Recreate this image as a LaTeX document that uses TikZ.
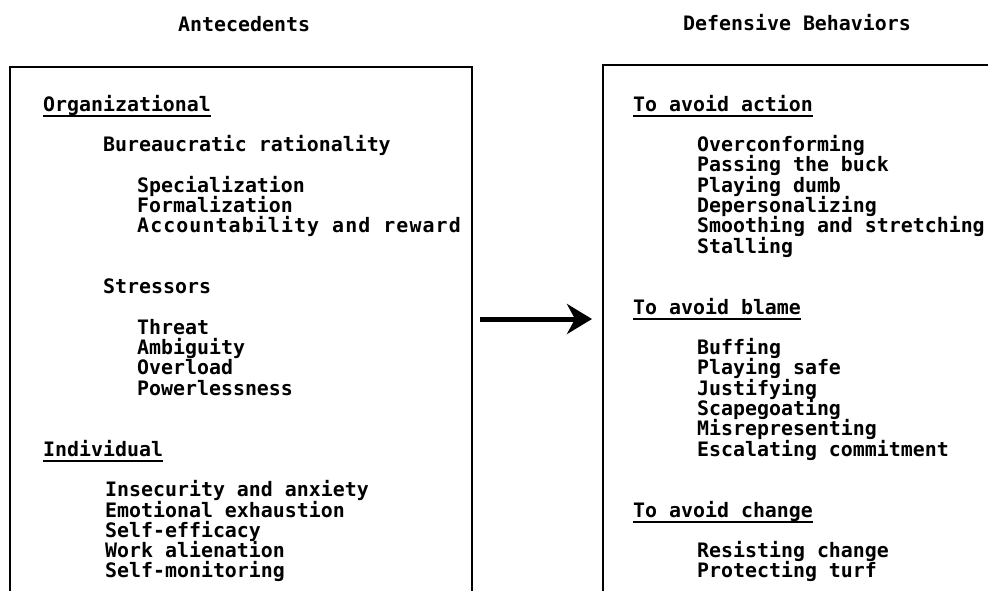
\documentclass[tikz,border=0pt]{standalone}
\usepackage{fontspec}
\setmonofont{DejaVu Sans Mono}
\newfontfamily\widemono{DejaVu Sans Mono}[LetterSpace=5.5]
\usetikzlibrary{arrows.meta}
\begin{document}
\begin{tikzpicture}[x=1pt,y=-1pt,
  txt/.style={font=\ttfamily\bfseries\fontsize{19.9}{20}\selectfont, inner sep=0pt, anchor=base west},
  widetxt/.style={txt, font=\widemono\bfseries\fontsize{19.9}{20}\selectfont},
  frame/.style={line width=2pt},
  uline/.style={line width=2pt},
  link/.style={line width=5pt, -{Stealth[length=25pt,width=30pt,inset=8pt]}}]
\useasboundingbox (0,0) rectangle (988,590);
% two open-bottom frames
\begin{scope}
  \clip (0,0) rectangle (988,590);
  \draw[frame] (10,600) |- (472,67) -- (472,600);
  \draw[frame] (603,600) |- (1000,65);
\end{scope}
% column headings
\node[txt] (hA) at (178,31) {Antecedents};
\node[txt] (hD) at (683,30) {Defensive Behaviors};
% antecedents
\node[txt] (org) at (43,{111+20.3*0}) {Organizational};
\node[txt] (bur) at (103,{111+20.3*2}) {Bureaucratic rationality};
\node[txt] (spe) at (137,{111+20.3*4}) {Specialization};
\node[txt] (frm) at (137,{111+20.3*5}) {Formalization};
\node[widetxt] (acc) at (137,{111+20.3*6}) {Accountability and reward};
\node[txt] (str) at (103,{111+20.3*9}) {Stressors};
\node[txt] (thr) at (137,{111+20.3*11}) {Threat};
\node[txt] (amb) at (137,{111+20.3*12}) {Ambiguity};
\node[txt] (ovl) at (137,{111+20.3*13}) {Overload};
\node[txt] (pow) at (137,{111+20.3*14}) {Powerlessness};
\node[txt] (ind) at (43,{111+20.3*17}) {Individual};
\node[txt] (ins) at (105,{111+20.3*19}) {Insecurity and anxiety};
\node[txt] (emo) at (105,{111+20.3*20}) {Emotional exhaustion};
\node[txt] (sef) at (105,{111+20.3*21}) {Self-efficacy};
\node[txt] (wal) at (105,{111+20.3*22}) {Work alienation};
\node[txt] (smo) at (105,{111+20.3*23}) {Self-monitoring};
% defensive behaviours
\node[txt] (act) at (633,{111+20.3*0}) {To avoid action};
\node[txt] (ovc) at (697,{111+20.3*2}) {Overconforming};
\node[txt] (pas) at (697,{111+20.3*3}) {Passing the buck};
\node[txt] (pld) at (697,{111+20.3*4}) {Playing dumb};
\node[txt] (dep) at (697,{111+20.3*5}) {Depersonalizing};
\node[txt] (smt) at (697,{111+20.3*6}) {Smoothing and stretching};
\node[txt] (sta) at (697,{111+20.3*7}) {Stalling};
\node[txt] (bla) at (633,{111+20.3*10}) {To avoid blame};
\node[txt] (buf) at (697,{111+20.3*12}) {Buffing};
\node[txt] (pls) at (697,{111+20.3*13}) {Playing safe};
\node[txt] (jus) at (697,{111+20.3*14}) {Justifying};
\node[txt] (sca) at (697,{111+20.3*15}) {Scapegoating};
\node[txt] (mis) at (697,{111+20.3*16}) {Misrepresenting};
\node[txt] (esc) at (697,{111+20.3*17}) {Escalating commitment};
\node[txt] (chg) at (633,{111+20.3*20}) {To avoid change};
\node[txt] (res) at (697,{111+20.3*22}) {Resisting change};
\node[txt] (pro) at (697,{111+20.3*23}) {Protecting turf};
% underlined group headings
\foreach \n in {org,ind,act,bla,chg}
  \draw[uline] ([yshift=-5pt]\n.base west) -- ([yshift=-5pt]\n.base east);
% causal arrow between the frames
\coordinate (from) at (480,319);
\coordinate (to) at (592,319);
\draw[link] (from) -- (to);
\end{tikzpicture}
\end{document}
